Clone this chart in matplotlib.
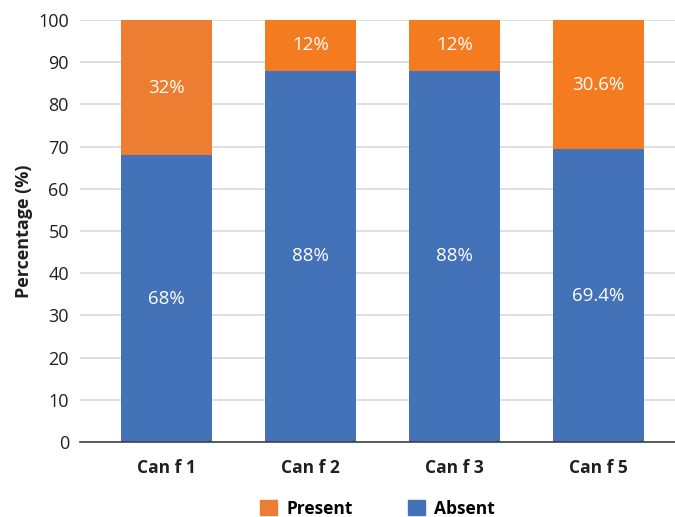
import matplotlib

matplotlib.use("Agg")
import matplotlib.pyplot as plt
from matplotlib.patches import Patch

categories = ["Can f 1", "Can f 2", "Can f 3", "Can f 5"]
absent = [68, 88, 88, 69.4]
present = [32, 12, 12, 30.6]
absent_labels = ["68%", "88%", "88%", "69.4%"]
present_labels = ["32%", "12%", "12%", "30.6%"]

BLUE = "#4472B8"
ORANGE = "#F47B20"
ORANGE_ALT = "#ED7D31"
TEXT = "#231F20"

plt.rcParams["font.family"] = ["Open Sans", "DejaVu Sans"]

fig = plt.figure(figsize=(6.75, 5.17), dpi=100)
ax = fig.add_axes([80 / 675, 1 - 442 / 517, 595 / 675, 422 / 517])

x = list(range(len(categories)))
width = 0.632
present_colors = [ORANGE_ALT, ORANGE, ORANGE, ORANGE]

ax.bar(x, absent, width=width, color=BLUE, zorder=3)
ax.bar(x, present, width=width, bottom=absent, color=present_colors, zorder=3)

for i in x:
    ax.text(i, absent[i] / 2, absent_labels[i], ha="center", va="center",
            color="white", fontsize=13.5, zorder=4)
    ax.text(i, absent[i] + present[i] / 2, present_labels[i], ha="center", va="center",
            color="white", fontsize=13.5, zorder=4)

ax.set_xlim(-0.6, 3.53)
ax.set_ylim(0, 100)
ax.set_yticks(range(0, 101, 10))
ax.set_xticks(x, labels=categories, fontsize=12.5, fontweight="bold", color=TEXT)
ax.tick_params(axis="y", labelsize=13, labelcolor=TEXT, length=0, pad=8)
ax.tick_params(axis="x", length=0, pad=12)
ax.grid(axis="y", color="#D9D9D9", linewidth=1.2, zorder=0)
ax.set_axisbelow(True)
for side in ["left", "right", "top"]:
    ax.spines[side].set_visible(False)
ax.spines["bottom"].set_color("#404040")
ax.spines["bottom"].set_linewidth(1.2)
ax.spines["bottom"].set_zorder(5)
ax.set_ylabel("Percentage (%)", fontsize=13, fontweight="bold", color=TEXT, labelpad=4)

handles = [Patch(color=ORANGE_ALT, label="Present"), Patch(color=BLUE, label="Absent")]
ax.legend(handles=handles, loc="center", bbox_to_anchor=(0.5, -0.158), ncol=2,
          frameon=False, prop={"weight": "bold", "size": 12.5}, handlelength=1.0,
          handleheight=1.0, columnspacing=3.2, handletextpad=0.5)

fig.savefig("out.png", dpi=100)
